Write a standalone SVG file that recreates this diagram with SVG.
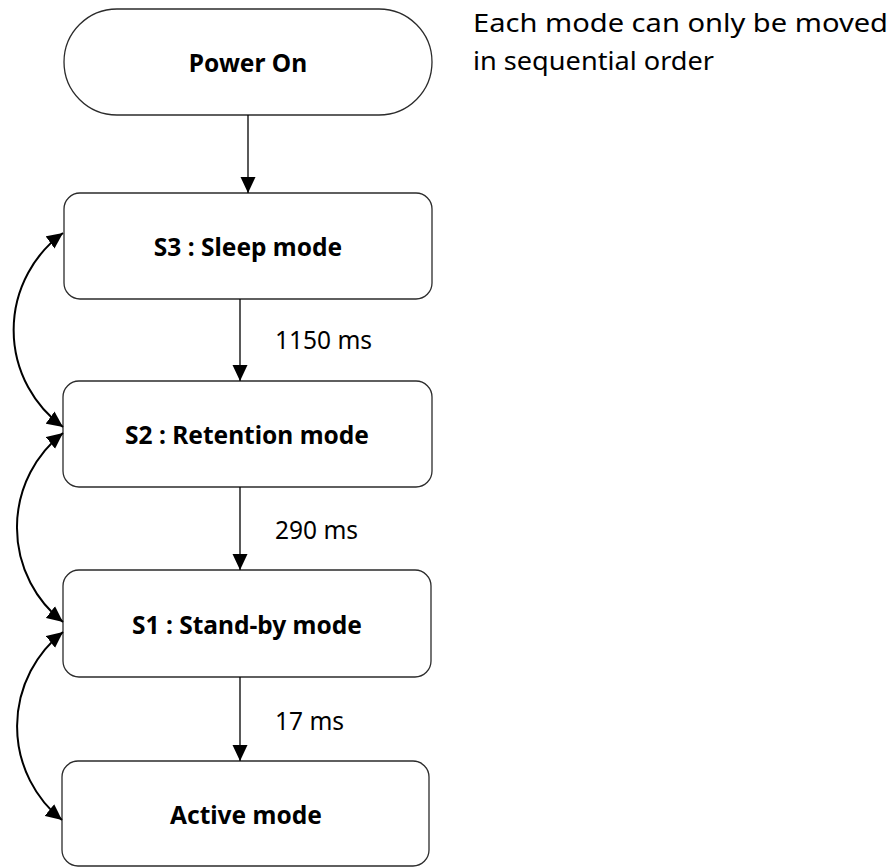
<svg xmlns="http://www.w3.org/2000/svg" width="893" height="867" viewBox="0 0 893 867">
  <style>
    .box { fill: #ffffff; stroke: #2b2b2b; stroke-width: 1.3; }
    .lbl { font-family: "Noto Sans", "Open Sans", sans-serif; font-weight: bold; font-size: 24.5px; fill: #000; text-anchor: middle; }
    .time { font-family: "Noto Sans", "Open Sans", sans-serif; font-size: 24.5px; fill: #000; }
    .note { font-family: "Noto Sans", "Open Sans", sans-serif; font-size: 25px; fill: #000; }
    .edge { fill: none; stroke: #000; stroke-width: 1.3; }
    .loop { fill: none; stroke: #000; stroke-width: 2; }
  </style>
  <defs>
    <marker id="arrow" markerUnits="userSpaceOnUse" markerWidth="16" markerHeight="16" viewBox="0 0 16 16" refX="16" refY="8" orient="auto-start-reverse">
      <path d="M0,0.5 L16,8 L0,15.5 Z" fill="#000"/>
    </marker>
  </defs>

  <rect width="893" height="867" fill="#ffffff"/>

  <g id="power-on">
    <rect class="box" x="64" y="9" width="368" height="106" rx="53" ry="53"/>
    <text class="lbl" x="248" y="72">Power On</text>
  </g>

  <g id="s3-sleep">
    <rect class="box" x="64" y="193" width="368" height="106" rx="16" ry="16"/>
    <text class="lbl" x="248" y="256">S3 : Sleep mode</text>
  </g>

  <g id="s2-retention">
    <rect class="box" x="63" y="381" width="369" height="106" rx="16" ry="16"/>
    <text class="lbl" x="247" y="444">S2 : Retention mode</text>
  </g>

  <g id="s1-standby">
    <rect class="box" x="63" y="570" width="368" height="107" rx="16" ry="16"/>
    <text class="lbl" x="247" y="634">S1 : Stand-by mode</text>
  </g>

  <g id="active">
    <rect class="box" x="62" y="761" width="367" height="105" rx="16" ry="16"/>
    <text class="lbl" x="246" y="824">Active mode</text>
  </g>

  <g id="note">
    <text class="note" x="473" y="32" textLength="415" lengthAdjust="spacingAndGlyphs">Each mode can only be moved</text>
    <text class="note" x="473" y="70" textLength="241" lengthAdjust="spacingAndGlyphs">in sequential order</text>
  </g>

  <g id="connectors">
    <path class="edge" d="M248,115 L248,193" marker-end="url(#arrow)"/>
    <path class="edge" d="M240,299 L240,381" marker-end="url(#arrow)"/>
    <path class="edge" d="M240,487 L240,570" marker-end="url(#arrow)"/>
    <path class="edge" d="M240,677 L240,761" marker-end="url(#arrow)"/>
    <text class="time" x="275" y="349">1150 ms</text>
    <text class="time" x="275" y="539">290 ms</text>
    <text class="time" x="275" y="730">17 ms</text>

    <path class="loop" d="M63,233 A120,120 0 0 0 63,427" marker-start="url(#arrow)" marker-end="url(#arrow)"/>
    <path class="loop" d="M63,433 A120,120 0 0 0 63,622" marker-start="url(#arrow)" marker-end="url(#arrow)"/>
    <path class="loop" d="M63,632 A120,120 0 0 0 62,820" marker-start="url(#arrow)" marker-end="url(#arrow)"/>
  </g>
</svg>
